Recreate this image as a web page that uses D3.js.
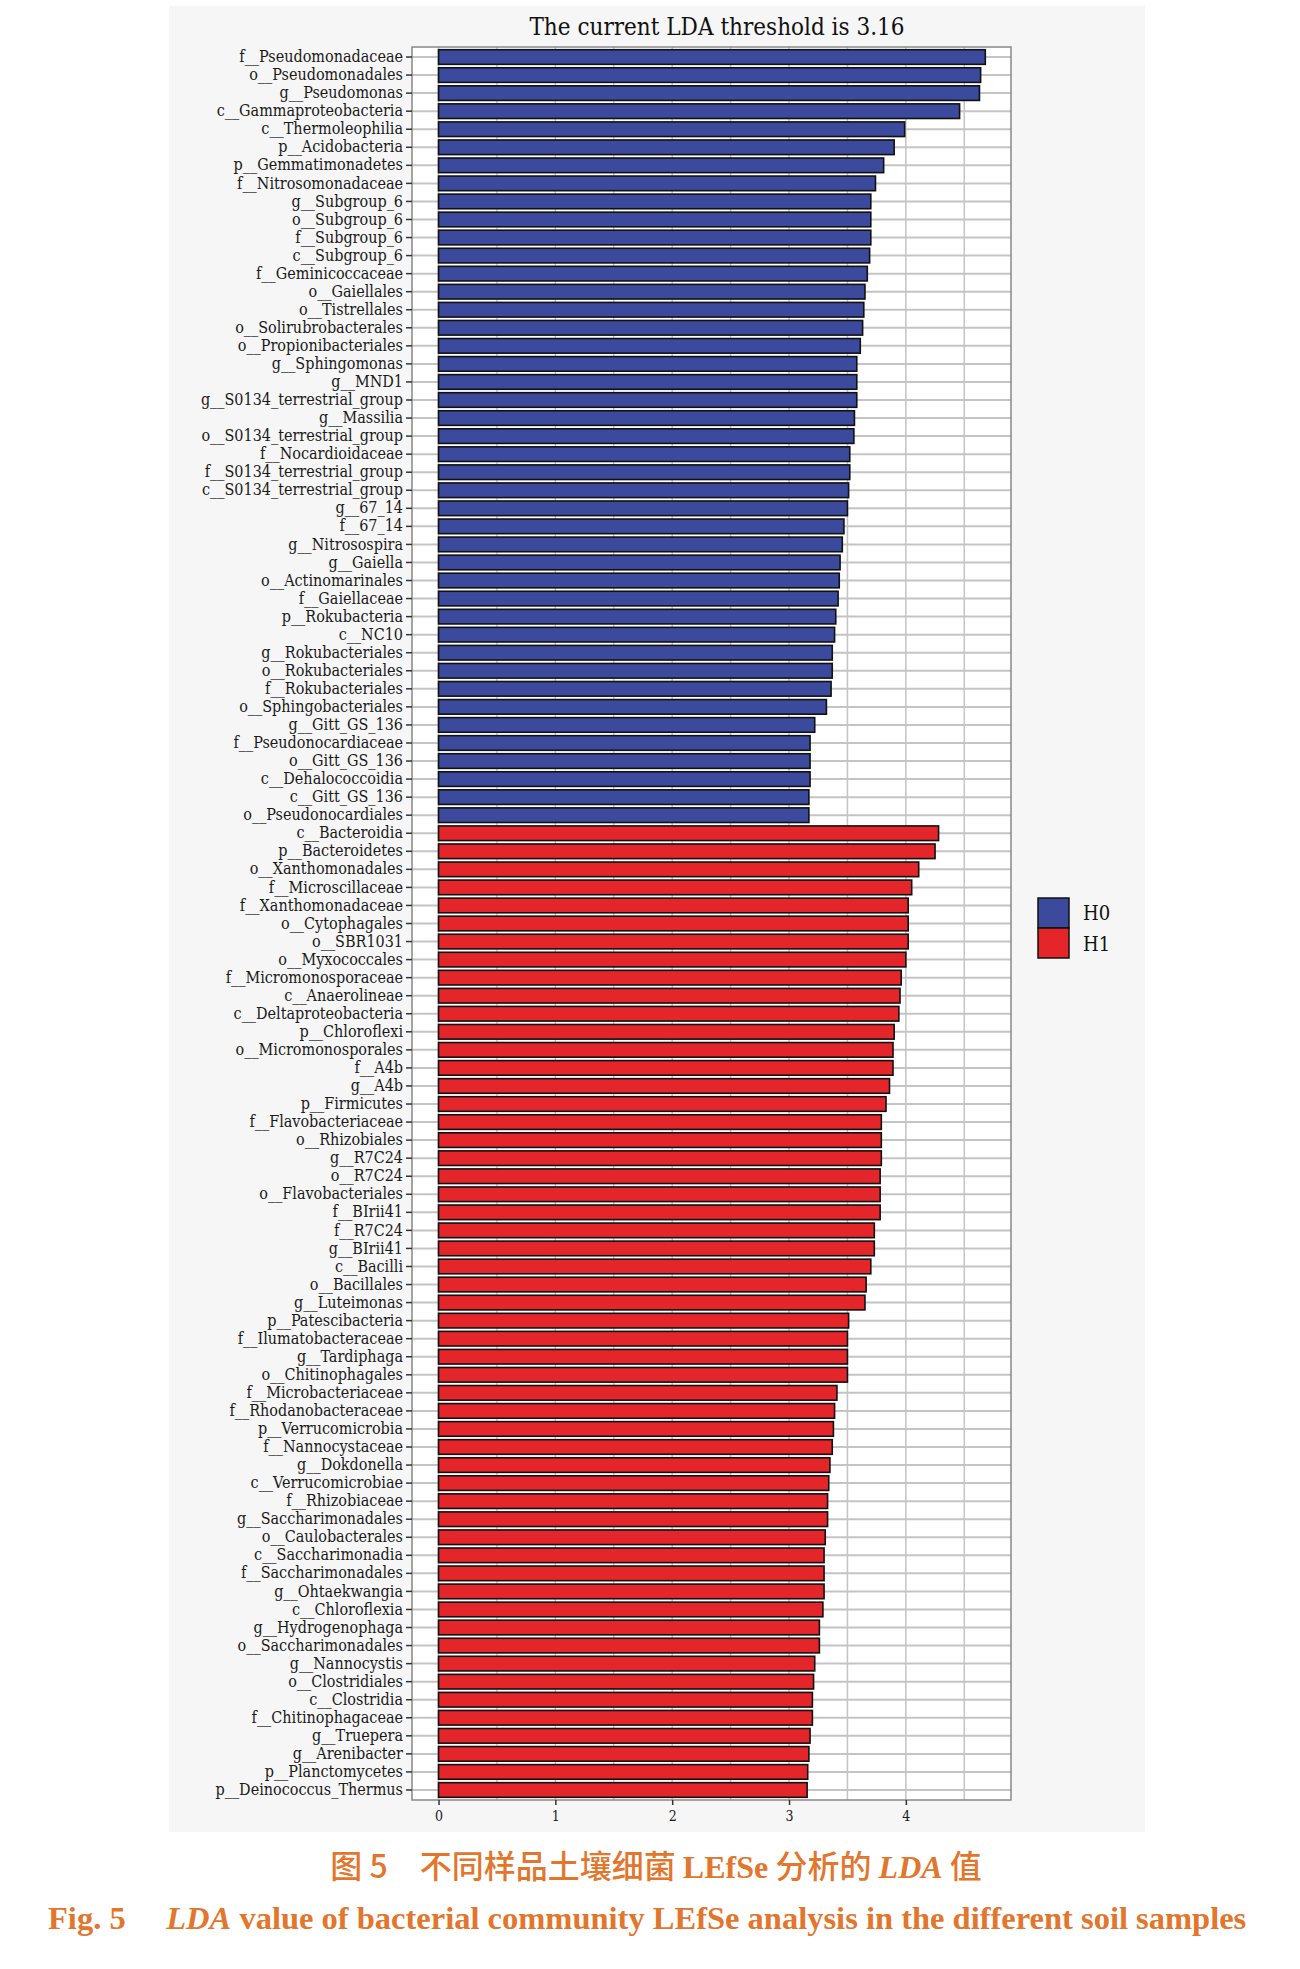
<!DOCTYPE html>
<html>
<head>
<meta charset="utf-8">
<script src="https://cdn.jsdelivr.net/npm/d3@7"></script>
<style>
  body { margin: 0; background: #fff; }
  svg { display: block; }
</style>
</head>
<body>
<svg id="chart" width="1300" height="1969"></svg>
<script>
// LDA scores, group H0 (blue) then H1 (red)
var h0Names = ["f__Pseudomonadaceae","o__Pseudomonadales","g__Pseudomonas","c__Gammaproteobacteria",
  "c__Thermoleophilia","p__Acidobacteria","p__Gemmatimonadetes","f__Nitrosomonadaceae",
  "g__Subgroup_6","o__Subgroup_6","f__Subgroup_6","c__Subgroup_6","f__Geminicoccaceae",
  "o__Gaiellales","o__Tistrellales","o__Solirubrobacterales","o__Propionibacteriales",
  "g__Sphingomonas","g__MND1","g__S0134_terrestrial_group","g__Massilia",
  "o__S0134_terrestrial_group","f__Nocardioidaceae","f__S0134_terrestrial_group",
  "c__S0134_terrestrial_group","g__67_14","f__67_14","g__Nitrosospira","g__Gaiella",
  "o__Actinomarinales","f__Gaiellaceae","p__Rokubacteria","c__NC10","g__Rokubacteriales",
  "o__Rokubacteriales","f__Rokubacteriales","o__Sphingobacteriales","g__Gitt_GS_136",
  "f__Pseudonocardiaceae","o__Gitt_GS_136","c__Dehalococcoidia","c__Gitt_GS_136",
  "o__Pseudonocardiales"];
var h0Values = [4.68,4.64,4.63,4.46,3.99,3.90,3.81,3.74,3.70,3.70,3.70,3.69,3.67,
  3.65,3.64,3.63,3.61,3.58,3.58,3.58,3.56,3.555,3.52,3.52,3.51,3.50,3.47,3.456,3.437,
  3.43,3.42,3.40,3.39,3.37,3.37,3.36,3.32,3.22,3.18,3.18,3.18,3.17,3.17];

var h1Names = ["c__Bacteroidia","p__Bacteroidetes","o__Xanthomonadales","f__Microscillaceae",
  "f__Xanthomonadaceae","o__Cytophagales","o__SBR1031","o__Myxococcales",
  "f__Micromonosporaceae","c__Anaerolineae","c__Deltaproteobacteria","p__Chloroflexi",
  "o__Micromonosporales","f__A4b","g__A4b","p__Firmicutes","f__Flavobacteriaceae",
  "o__Rhizobiales","g__R7C24","o__R7C24","o__Flavobacteriales","f__BIrii41","f__R7C24",
  "g__BIrii41","c__Bacilli","o__Bacillales","g__Luteimonas","p__Patescibacteria",
  "f__Ilumatobacteraceae","g__Tardiphaga","o__Chitinophagales","f__Microbacteriaceae",
  "f__Rhodanobacteraceae","p__Verrucomicrobia","f__Nannocystaceae","g__Dokdonella",
  "c__Verrucomicrobiae","f__Rhizobiaceae","g__Saccharimonadales","o__Caulobacterales",
  "c__Saccharimonadia","f__Saccharimonadales","g__Ohtaekwangia","c__Chloroflexia",
  "g__Hydrogenophaga","o__Saccharimonadales","g__Nannocystis","o__Clostridiales",
  "c__Clostridia","f__Chitinophagaceae","g__Truepera","g__Arenibacter",
  "p__Planctomycetes","p__Deinococcus_Thermus"];
var h1Values = [4.28,4.25,4.11,4.05,4.02,4.02,4.02,4.00,3.96,3.95,3.94,3.90,3.89,3.89,
  3.86,3.83,3.79,3.79,3.79,3.78,3.78,3.78,3.73,3.73,3.70,3.66,3.65,3.51,3.50,3.50,3.50,
  3.41,3.39,3.38,3.37,3.35,3.34,3.33,3.33,3.31,3.30,3.30,3.30,3.29,3.26,3.26,3.22,3.21,
  3.20,3.20,3.18,3.17,3.16,3.155];

var groups = ["H0", "H1"];
var xTicks = [0, 1, 2, 3, 4];
var threshold = 3.16;

var colors = { H0: "#3b4a9c", H1: "#e4262b" };
var serif = "'DejaVu Serif Condensed', 'DejaVu Serif', 'Liberation Serif', serif";

var rows = h0Names.map(function(n, i) { return { name: n, value: h0Values[i], group: "H0" }; })
  .concat(h1Names.map(function(n, i) { return { name: n, value: h1Values[i], group: "H1" }; }));

var svg = d3.select("#chart");

// grey panel behind the plot, like the exported picture
svg.append("rect")
  .attr("x", 169).attr("y", 6)
  .attr("width", 976).attr("height", 1826)
  .attr("fill", "#f6f6f6");

var plotLeft = 412, plotRight = 1011, plotTop = 47, plotBottom = 1800;

var x = d3.scaleLinear().domain([-0.227, 4.9]).range([plotLeft, plotRight]);
var y = d3.scaleBand()
  .domain(rows.map(function(d) { return d.name; }))
  .range([plotTop, plotBottom])
  .paddingInner(0.19)
  .paddingOuter(0.15);

svg.append("rect")
  .attr("x", plotLeft).attr("y", plotTop)
  .attr("width", plotRight - plotLeft).attr("height", plotBottom - plotTop)
  .attr("fill", "#fff");

// grid
svg.append("g")
  .selectAll("line")
  .data(d3.range(0, 4.51, 0.5))
  .enter().append("line")
  .attr("x1", function(d) { return x(d); })
  .attr("x2", function(d) { return x(d); })
  .attr("y1", plotTop).attr("y2", plotBottom)
  .attr("stroke", "#c4c4c4")
  .attr("stroke-width", 1.5);

svg.append("g")
  .selectAll("line")
  .data(rows)
  .enter().append("line")
  .attr("x1", plotLeft).attr("x2", plotRight)
  .attr("y1", function(d) { return y(d.name) + y.bandwidth() / 2; })
  .attr("y2", function(d) { return y(d.name) + y.bandwidth() / 2; })
  .attr("stroke", "#c4c4c4")
  .attr("stroke-width", 2);

// bars
svg.append("g")
  .selectAll("rect")
  .data(rows)
  .enter().append("rect")
  .attr("x", x(0))
  .attr("y", function(d) { return y(d.name); })
  .attr("width", function(d) { return x(d.value) - x(0); })
  .attr("height", y.bandwidth())
  .attr("fill", function(d) { return colors[d.group]; })
  .attr("stroke", "#111")
  .attr("stroke-width", 1.6);

// frame
svg.append("rect")
  .attr("x", plotLeft).attr("y", plotTop)
  .attr("width", plotRight - plotLeft).attr("height", plotBottom - plotTop)
  .attr("fill", "none")
  .attr("stroke", "#888")
  .attr("stroke-width", 1.5);

// axes
var yAxis = svg.append("g")
  .attr("transform", "translate(" + plotLeft + ",0)")
  .call(d3.axisLeft(y).tickSize(6).tickPadding(3));
yAxis.select(".domain").remove();
yAxis.selectAll("line").attr("stroke", "#333").attr("stroke-width", 1.5);
yAxis.selectAll("text")
  .style("font-family", serif)
  .style("font-size", "16px")
  .attr("fill", "#1a1a1a");

var xAxis = svg.append("g")
  .attr("transform", "translate(0," + plotBottom + ")")
  .call(d3.axisBottom(x).tickValues(xTicks).tickFormat(d3.format("d")).tickSize(5).tickPadding(6));
xAxis.select(".domain").remove();
xAxis.selectAll("line").attr("stroke", "#333").attr("stroke-width", 1.5);
xAxis.selectAll("text")
  .style("font-family", serif)
  .style("font-size", "14px")
  .attr("fill", "#1a1a1a");

// title
svg.append("text")
  .attr("x", 717).attr("y", 35)
  .attr("text-anchor", "middle")
  .style("font-family", serif)
  .style("font-size", "24px")
  .attr("fill", "#111")
  .text("The current LDA threshold is " + threshold);

// legend
var legend = svg.append("g").attr("transform", "translate(1038,898)");
legend.selectAll("rect")
  .data(groups)
  .enter().append("rect")
  .attr("x", 0)
  .attr("y", function(d, i) { return i * 30; })
  .attr("width", 31).attr("height", 30)
  .attr("fill", function(d) { return colors[d]; })
  .attr("stroke", "#111")
  .attr("stroke-width", 1.5);
legend.selectAll("text")
  .data(groups)
  .enter().append("text")
  .attr("x", 45)
  .attr("y", function(d, i) { return i * 31 + 22; })
  .style("font-family", serif)
  .style("font-size", "20px")
  .attr("fill", "#111")
  .text(function(d) { return d; });

// captions
var orange = "#e2762c";
var cn = svg.append("text")
  .attr("x", 656).attr("y", 1878)
  .attr("text-anchor", "middle")
  .style("font-family", "'Noto Sans CJK SC', sans-serif")
  .style("font-size", "32px")
  .style("font-weight", "500")
  .attr("fill", orange);
cn.append("tspan").text("图 5\u3000不同样品土壤细菌 ");
cn.append("tspan").style("font-family", "'Liberation Serif', serif").style("font-weight", "bold").text("LEfSe");
cn.append("tspan").text(" 分析的 ");
cn.append("tspan").style("font-family", "'Liberation Serif', serif").style("font-style", "italic").style("font-weight", "bold").text("LDA");
cn.append("tspan").text(" 值");

var en = svg.append("text")
  .attr("x", 48).attr("y", 1929)
  .style("font-family", "'Liberation Serif', serif")
  .style("font-weight", "bold")
  .style("font-size", "32.5px")
  .attr("fill", orange);
en.append("tspan").text("Fig. 5\u2003 ");
en.append("tspan").style("font-style", "italic").text("LDA");
en.append("tspan").text(" value of bacterial community LEfSe analysis in the different soil samples");
</script>
</body>
</html>
